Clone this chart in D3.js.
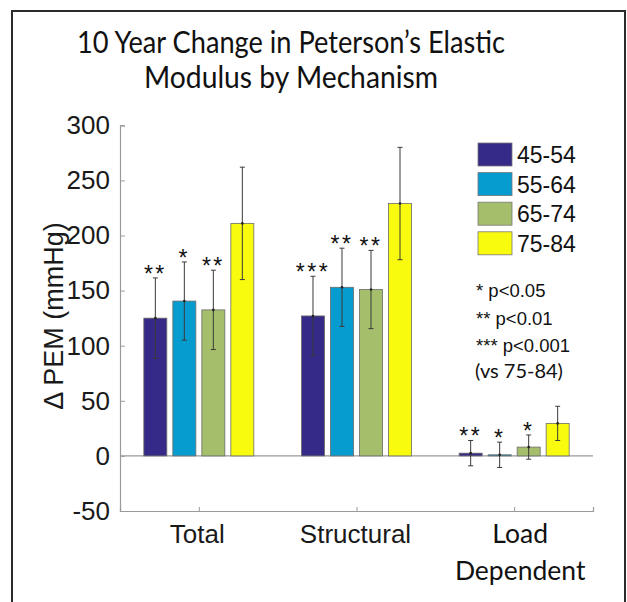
<!DOCTYPE html>
<html>
<head>
<meta charset="utf-8">
<script src="https://cdn.jsdelivr.net/npm/d3@7"></script>
<style>
  html, body { margin: 0; padding: 0; background: #fff; }
  svg { display: block; }
</style>
</head>
<body>
<svg id="chart" width="627" height="602"></svg>
<script>
// ---- data ----
const categories = ["Total", "Structural", "Load Dependent"];
const series = ["45-54", "55-64", "65-74", "75-84"];
const colors = ["#352A87", "#079CCF", "#A5BE6B", "#F9FB0E"];
// mean change (mmHg) per category, per age group
const values45 = [125, 127, 2.5];
const values55 = [140.5, 153, 1];
const values65 = [132.5, 151, 8];
const values75 = [211, 229, 29.5];
// error bar half-widths
const err45 = [36.5, 36, 11.5];
const err55 = [35.5, 35.5, 11.5];
const err65 = [36, 35.5, 11];
const err75 = [51, 51, 15.5];
// significance markers vs 75-84
const sig45 = ["**", "***", "**"];
const sig55 = ["*", "**", "*"];
const sig65 = ["**", "**", "*"];
const sig75 = ["", "", ""];
const yTicks = [-50, 0, 50, 100, 150, 200, 250, 300];
const titleLines = ["10 Year Change in Peterson\u2019s Elastic", "Modulus by Mechanism"];
const sigNotes = ["* p<0.05", "** p<0.01", "*** p<0.001"];
const sigNoteRef = "(vs 75-84)";

const valueSets = [values45, values55, values65, values75];
const errSets = [err45, err55, err65, err75];
const sigSets = [sig45, sig55, sig65, sig75];

const svg = d3.select("#chart");
const ARIAL = "'Liberation Sans', Arial, Helvetica, sans-serif";
const CALIBRI = "Lato, 'Open Sans', sans-serif";

// frame
svg.append("rect").attr("x", 12).attr("y", 11).attr("width", 613).attr("height", 620)
  .attr("fill", "none").attr("stroke", "#2b2b2b").attr("stroke-width", 2);

// scales
const x = d3.scaleLinear().domain([0.5, 3.5]).range([120, 593]);
const y = d3.scaleLinear().domain([-50, 300]).range([511, 125.3]);
const xSub = d3.scaleBand().domain(series).range([-55, 55]).paddingInner(0.207).paddingOuter(0);

// title
const titleWidths = [428, 294];
svg.append("g").selectAll("text").data(titleLines).join("text")
  .attr("x", 291).attr("y", (d, i) => 53 + i * 35)
  .attr("text-anchor", "middle")
  .attr("font-family", CALIBRI).attr("font-size", 30).attr("fill", "#111")
  .attr("textLength", (d, i) => titleWidths[i]).attr("lengthAdjust", "spacingAndGlyphs")
  .text(d => d);

// zero line
svg.append("line").attr("x1", x(0.5)).attr("x2", x(3.5)).attr("y1", y(0)).attr("y2", y(0))
  .attr("stroke", "#9a9a9a").attr("stroke-width", 1.2);

// y axis
const yAxis = d3.axisLeft(y).tickValues(yTicks).tickSize(-5).tickPadding(10).tickFormat(d => String(d));
const gy = svg.append("g").attr("transform", `translate(${x(0.5)},0)`).call(yAxis);
gy.select(".domain").attr("stroke", "#9a9a9a").attr("stroke-width", 1.2);
gy.selectAll(".tick line").attr("stroke", "#9a9a9a");
gy.selectAll(".tick text").attr("font-family", ARIAL).attr("font-size", 26).attr("fill", "#1a1a1a");

// x axis
const xAxis = d3.axisBottom(x).tickValues([1, 2, 3]).tickSize(-4).tickFormat("");
const gx = svg.append("g").attr("transform", `translate(0,${y(-50)})`).call(xAxis);
gx.select(".domain").attr("stroke", "#9a9a9a").attr("stroke-width", 1.2);
gx.selectAll(".tick line").attr("stroke", "#9a9a9a");

// x labels
const xl = svg.append("g");
xl.append("text").attr("x", x(1) - 1.5).attr("y", 543).attr("text-anchor", "middle")
  .attr("font-family", ARIAL).attr("font-size", 26).attr("fill", "#1a1a1a").text(categories[0]);
xl.append("text").attr("x", x(2) - 1).attr("y", 543).attr("text-anchor", "middle")
  .attr("font-family", ARIAL).attr("font-size", 26).attr("fill", "#1a1a1a").text(categories[1]);
const lw = categories[2].split(" ");
xl.selectAll("text.ld").data(lw).join("text").attr("class", "ld")
  .attr("x", x(3) + 6).attr("y", (d, i) => 543 + i * 37).attr("text-anchor", "middle")
  .attr("font-family", CALIBRI).attr("font-size", 26.5).attr("fill", "#111").text(d => d);

// y label
svg.append("text").attr("transform", `translate(63,316) rotate(-90)`)
  .attr("text-anchor", "middle").attr("font-family", ARIAL).attr("font-size", 27).attr("fill", "#1a1a1a")
  .text("\u0394 PEM (mmHg)");

// bars
const barData = [];
series.forEach((s, si) => {
  categories.forEach((c, ci) => {
    barData.push({ s, si, ci, v: valueSets[si][ci], e: errSets[si][ci], sig: sigSets[si][ci] });
  });
});
const bx = d => x(d.ci + 1) + xSub(d.s);
const bcx = d => bx(d) + xSub.bandwidth() / 2;

svg.append("g").selectAll("rect").data(barData).join("rect")
  .attr("x", bx).attr("width", xSub.bandwidth())
  .attr("y", d => y(Math.max(0, d.v))).attr("height", d => Math.abs(y(d.v) - y(0)))
  .attr("fill", d => colors[d.si]).attr("stroke", "#6b6b6b").attr("stroke-width", 0.8);

// error bars
const eg = svg.append("g").attr("stroke", "#3a3a3a").attr("stroke-width", 1);
eg.selectAll("line.v").data(barData).join("line").attr("class", "v")
  .attr("x1", bcx).attr("x2", bcx).attr("y1", d => y(d.v + d.e)).attr("y2", d => y(d.v - d.e));
eg.selectAll("line.t").data(barData).join("line").attr("class", "t")
  .attr("x1", d => bcx(d) - 2.5).attr("x2", d => bcx(d) + 2.5).attr("y1", d => y(d.v + d.e)).attr("y2", d => y(d.v + d.e));
eg.selectAll("line.b").data(barData).join("line").attr("class", "b")
  .attr("x1", d => bcx(d) - 2.5).attr("x2", d => bcx(d) + 2.5).attr("y1", d => y(d.v - d.e)).attr("y2", d => y(d.v - d.e));
svg.append("g").selectAll("circle").data(barData).join("circle")
  .attr("cx", bcx).attr("cy", d => y(d.v)).attr("r", 1.3).attr("fill", "#222");

// significance stars
svg.append("g").selectAll("text").data(barData.filter(d => d.sig)).join("text")
  .attr("x", bcx).attr("y", d => y(d.v + d.e) + 4).attr("text-anchor", "middle")
  .attr("font-family", ARIAL).attr("font-size", 23).attr("letter-spacing", 2.5).attr("fill", "#111")
  .text(d => d.sig);

// legend
const lg = svg.append("g");
const rowY = i => 143 + i * 29.6;
lg.selectAll("rect").data(series).join("rect")
  .attr("x", 478).attr("y", (d, i) => rowY(i)).attr("width", 34).attr("height", 23)
  .attr("fill", (d, i) => colors[i]).attr("stroke", "#777").attr("stroke-width", 0.8);
lg.selectAll("text").data(series).join("text")
  .attr("x", 517).attr("y", (d, i) => rowY(i) + 20).attr("font-family", ARIAL).attr("font-size", 23)
  .attr("fill", "#111").text(d => d);

// significance notes
svg.append("g").selectAll("text").data(sigNotes).join("text")
  .attr("x", 476).attr("y", (d, i) => 297 + i * 27.5)
  .attr("font-family", ARIAL).attr("font-size", 18.5).attr("fill", "#111").text(d => d);
svg.append("text").attr("x", 475).attr("y", 378)
  .attr("font-family", CALIBRI).attr("font-size", 20).attr("fill", "#111").text(sigNoteRef);
</script>
</body>
</html>
